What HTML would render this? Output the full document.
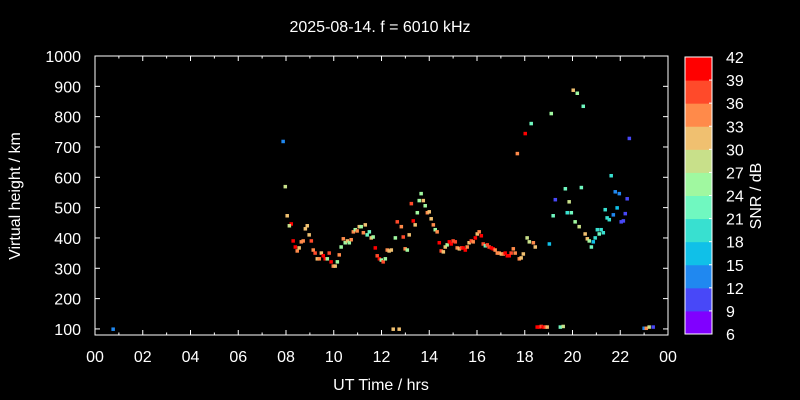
<!DOCTYPE html>
<html><head><meta charset="utf-8"><style>
html,body{margin:0;padding:0;background:#000;}
svg{display:block;font-family:"Liberation Sans",sans-serif;}
</style></head><body>
<svg id="chart" width="800" height="400" viewBox="0 0 800 400">
<rect width="800" height="400" fill="#000"/>
<text x="380" y="32" fill="#fff" font-size="16" text-anchor="middle">2025-08-14. f = 6010 kHz</text>
<text x="381" y="390" fill="#fff" font-size="16" text-anchor="middle">UT Time / hrs</text>
<text transform="translate(20,196) rotate(-90)" fill="#fff" font-size="16" text-anchor="middle">Virtual height / km</text>
<text transform="translate(761,196) rotate(-90)" fill="#fff" font-size="16" text-anchor="middle">SNR / dB</text>
<g id="axes"></g>
<g id="points"></g>
<g id="cbar"></g>
<rect x="95" y="56" width="573" height="279" fill="none" stroke="#fff" stroke-width="1"/>
</svg>
<script>
const xTicks = [0,2,4,6,8,10,12,14,16,18,20,22,24];
const xTickLabels = ["00","02","04","06","08","10","12","14","16","18","20","22","00"];
const yTicks = [100,200,300,400,500,600,700,800,900,1000];
const cbTicks = [6,9,12,15,18,21,24,27,30,33,36,39,42];
const cbColors = ["#8000ff","#4848f8","#2088f0","#10c0e8","#38e0d0","#70f8c0","#a0f8a0","#c8e08a","#f0c070","#ff8a4a","#ff4a2a","#ff0000"];
const hours = [0.75,7.87,7.96,8.04,8.21,8.13,8.29,8.38,8.46,8.54,8.63,8.71,8.80,8.88,8.96,9.05,9.13,9.21,9.30,9.38,9.47,9.55,9.63,9.72,9.80,9.88,9.97,10.05,10.14,10.22,10.30,10.39,10.47,10.56,10.64,10.72,10.81,10.89,10.97,11.06,11.14,11.23,11.31,11.39,11.48,11.56,11.64,11.73,11.81,11.90,11.98,12.06,12.15,12.23,12.31,12.40,12.57,12.65,12.82,12.90,12.98,13.07,13.15,13.24,13.32,13.40,13.49,13.57,13.65,13.74,13.82,13.91,13.99,14.07,14.16,14.24,14.32,14.41,14.49,14.58,14.66,14.74,14.83,14.91,14.99,15.08,15.16,15.25,15.33,15.41,15.50,15.58,15.66,15.75,15.83,15.92,16.00,16.08,16.17,16.25,16.34,16.42,16.50,16.59,16.67,16.75,16.84,16.92,17.01,17.09,17.17,17.26,17.34,17.42,17.51,17.59,17.76,17.84,17.93,18.09,18.18,18.35,18.43,19.02,12.48,12.73,18.51,18.60,18.68,18.76,18.85,18.93,19.48,19.60,22.99,23.08,23.20,23.37,20.02,20.19,20.44,19.10,18.26,18.01,17.68,22.37,21.61,19.69,20.36,19.27,19.85,21.78,21.95,22.28,21.36,21.86,19.18,19.77,19.94,21.70,22.20,21.44,21.53,22.03,22.12,20.10,20.27,21.03,21.19,21.11,21.28,20.52,20.94,20.61,20.69,20.86,20.78];
const heights = [100,719,570,474,447,441,391,371,358,368,388,391,431,441,411,391,361,351,332,332,351,342,332,332,351,322,308,308,322,345,371,398,385,391,385,395,421,428,424,438,438,418,444,411,421,401,404,368,342,332,328,322,332,361,358,361,401,454,438,404,365,361,411,514,457,444,484,524,547,524,507,484,487,464,444,428,421,385,358,355,371,378,388,381,391,388,368,365,368,368,361,371,385,391,388,401,414,421,408,381,375,378,371,368,365,361,351,351,348,348,351,342,342,351,365,351,332,335,348,401,388,385,371,381,100,100,107,107,109,107,107,107,107,109,103,103,107,107,888,878,835,811,778,745,679,729,606,563,567,527,520,553,547,530,494,500,474,484,484,477,481,467,461,454,457,454,438,428,428,414,418,414,401,398,391,388,371];
const snr = [13,13,28,31,40,28,40,40,34,31,34,34,31,31,31,37,34,37,31,34,31,40,40,25,37,40,34,31,25,34,25,34,25,31,25,34,34,25,34,31,25,34,31,22,22,31,25,40,37,40,25,37,25,34,31,31,25,37,34,37,34,25,31,37,40,31,25,25,25,31,25,34,31,31,34,25,34,40,37,31,31,25,40,40,37,37,34,31,37,40,40,34,31,37,34,40,31,34,40,37,22,37,37,40,40,34,34,34,31,34,40,40,40,37,34,34,34,31,31,28,28,34,31,16,31,31,40,40,37,40,37,31,22,28,13,34,28,10,31,25,22,25,22,40,34,10,19,22,22,10,28,13,13,10,19,16,22,19,22,13,10,19,19,10,10,25,28,19,19,22,19,31,19,31,25,16,22];

const X0=95, X1=668, Y0=56, Y1=335;
function xs(h){return X0+(h/24)*(X1-X0);}
function ys(km){return Y0+(1000-km)*(Y1-Y0)/(1000-80);}
function snrColor(v){let i=Math.floor((v-6)/3);if(i<0)i=0;if(i>11)i=11;return cbColors[i];}
const NS="http://www.w3.org/2000/svg";
function mk(tag,attrs){const e=document.createElementNS(NS,tag);for(const k in attrs)e.setAttribute(k,attrs[k]);return e;}
const axes=document.getElementById('axes');
for(let h=0;h<=24;h++){
  const major=h%2===0;const len=major?5:2.5;const x=xs(h);
  const t1=mk('line',{x1:x,x2:x,y1:Y1,y2:Y1-len,stroke:'#fff','stroke-width':1});
  
  
  axes.appendChild(t1);
  const t2=mk('line',{x1:x,x2:x,y1:Y0,y2:Y0+len,stroke:'#fff','stroke-width':1});
  
  
  axes.appendChild(t2);
}
xTicks.forEach((h,i)=>{
  const t=mk('text',{x:xs(h),y:362,fill:'#fff','font-size':16,'text-anchor':'middle'});
  t.textContent=xTickLabels[i];
  
  
  axes.appendChild(t);
});
yTicks.forEach(v=>{
  const y=ys(v);
  const l=mk('line',{x1:X0,x2:X0+5,y1:y,y2:y,stroke:'#fff','stroke-width':1});
  
  
  axes.appendChild(l);
  const r=mk('line',{x1:X1,x2:X1-5,y1:y,y2:y,stroke:'#fff','stroke-width':1});
  
  
  axes.appendChild(r);
  const t=mk('text',{x:81,y:y+6,fill:'#fff','font-size':16,'text-anchor':'end'});
  t.textContent=v;
  
  
  axes.appendChild(t);
});
const pts=document.getElementById('points');
hours.forEach((h,i)=>{
  const r=mk('rect',{x:xs(h)-1.5,y:ys(heights[i])-1.5,width:3.5,height:3.5,fill:snrColor(snr[i])});
  
  
  pts.appendChild(r);
});
const cb=document.getElementById('cbar');
const CX=685,CW=27,CT=57,CB=334;
function cy(v){return CB-(v-6)/(42-6)*(CB-CT);}
cbColors.forEach((c,i)=>{
  const r=mk('rect',{x:CX,y:cy(cbTicks[i+1]),width:CW,height:cy(cbTicks[i])-cy(cbTicks[i+1])+0.5,fill:c});
  
  
  cb.appendChild(r);
});
const fr=mk('rect',{x:CX,y:CT,width:CW,height:CB-CT,fill:'none',stroke:'#fff','stroke-width':1});


cb.appendChild(fr);
cbTicks.forEach(v=>{
  const y=cy(v);
  const l=mk('line',{x1:CX+CW-3,x2:CX+CW,y1:y,y2:y,stroke:'#fff','stroke-width':1});
  
  
  cb.appendChild(l);
  const t=mk('text',{x:726,y:y+6,fill:'#fff','font-size':16});
  t.textContent=v;
  
  
  cb.appendChild(t);
});
</script>
</body></html>
